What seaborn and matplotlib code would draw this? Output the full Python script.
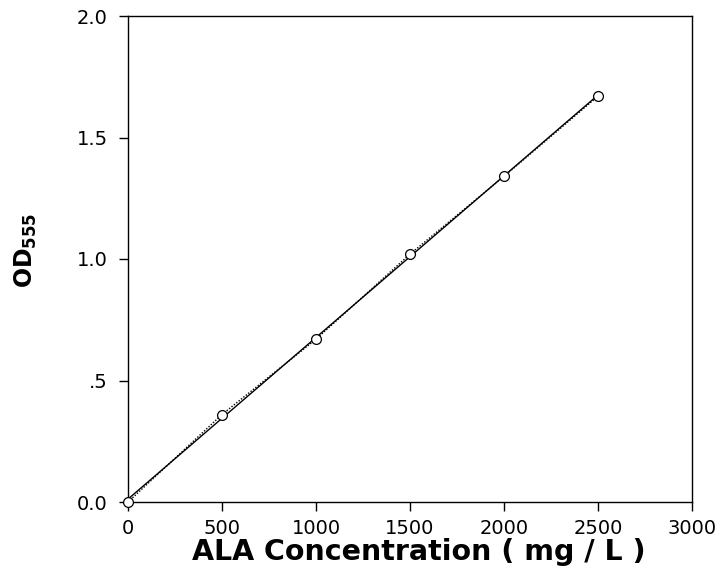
import matplotlib
matplotlib.use("Agg")
import matplotlib.pyplot as plt
import seaborn as sns
import pandas as pd

conc = [0, 500, 1000, 1500, 2000, 2500]
od = [0.0, 0.36, 0.67, 1.02, 1.34, 1.67]
xticks = [0, 500, 1000, 1500, 2000, 2500, 3000]
yticks = [0.0, 0.5, 1.0, 1.5, 2.0]
ytick_labels = ["0.0", ".5", "1.0", "1.5", "2.0"]

sns.set_style("ticks")
plt.rcParams['font.family'] = ['DejaVu Sans']
plt.rcParams['mathtext.fontset'] = 'dejavusans'
plt.rcParams['text.color'] = 'black'
plt.rcParams['axes.labelcolor'] = 'black'

df = pd.DataFrame({"conc": conc, "od": od})

fig = plt.figure(figsize=(7.26, 5.72), dpi=100)
ax = fig.add_axes([128/726, 1-502/572, (692-128)/726, (502-16)/572])

sns.regplot(data=df, x="conc", y="od", ci=None, ax=ax, scatter=False,
            line_kws=dict(color="black", lw=1.0, zorder=2))
sns.lineplot(data=df, x="conc", y="od", ax=ax, color="black", lw=1.0,
             linestyle=(0, (1, 1.2)), zorder=2)
sns.scatterplot(data=df, x="conc", y="od", ax=ax, marker="o", s=50,
                facecolor="white", edgecolor="black", linewidth=0.9,
                zorder=5, clip_on=False)

ax.set_xlim(0, 3000)
ax.set_ylim(0, 2.0)
ax.set_xticks(xticks)
ax.set_xticklabels([str(t) for t in xticks], fontsize=14)
ax.set_yticks(yticks)
ax.set_yticklabels(ytick_labels, fontsize=14)
for s in ax.spines.values():
    s.set_linewidth(1.0)
    s.set_color("black")
ax.tick_params(direction="out", length=6.5, width=1.0, colors="black", labelcolor="black")
ax.tick_params(axis="y", pad=8)
ax.tick_params(axis="x", pad=6)
ax.set_xlabel("ALA Concentration ( mg / L )", fontsize=20.5, fontweight="bold",
              color="black")
ax.xaxis.set_label_coords(0.516, -50/486, transform=ax.transAxes)
ax.xaxis.label.set_va("center")
ax.set_ylabel("")
fig.text(26/726, 1-250/572, r"$\mathbf{OD_{555}}$", rotation=90, fontsize=17,
         ha="center", va="center", color="black")

fig.savefig("out.png", dpi=100)
